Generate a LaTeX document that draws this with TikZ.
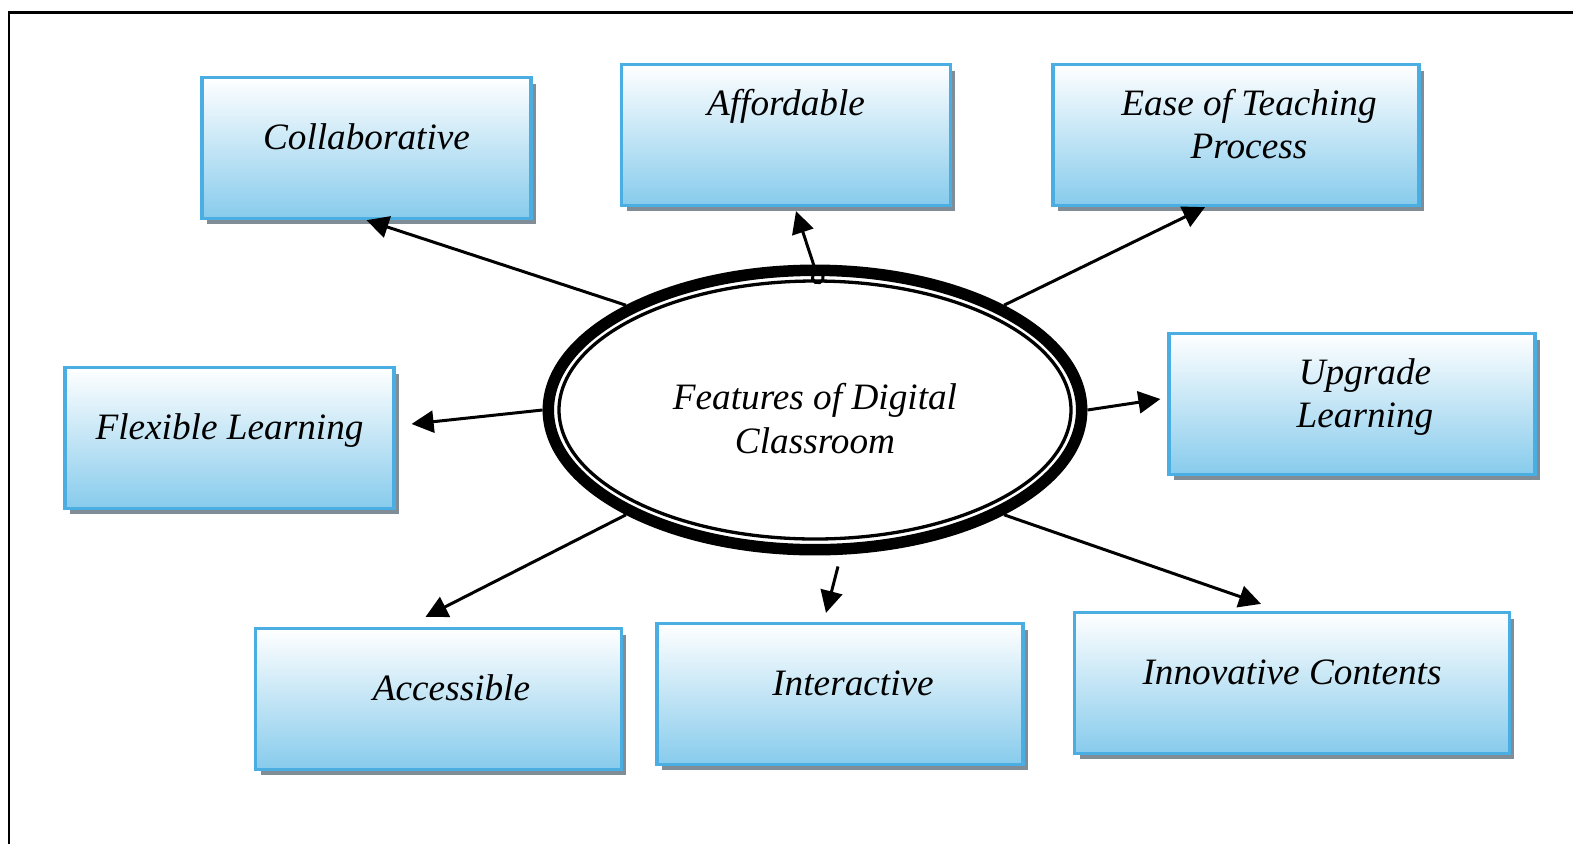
\documentclass[tikz,border=0pt]{standalone}
\usepackage{fontspec}
\setmainfont{Liberation Serif}
\usetikzlibrary{arrows.meta}
\usetikzlibrary{calc}
\usetikzlibrary{shapes.geometric}
\usetikzlibrary{shadows}

\definecolor{boxline}{RGB}{74,174,226}
\definecolor{boxfill}{RGB}{135,203,236}
\definecolor{boxshadow}{RGB}{128,141,150}

\newcommand{\boxfont}{\fontsize{21.2}{24.8}\selectfont\itshape}
\newcommand{\lpad}{\hspace*{0.52cm}}

\tikzset{
  feature/.style={rectangle, draw=boxline, line width=0.066cm, top color=white, bottom color=boxfill,
    minimum width=6.58cm, minimum height=2.82cm, align=center, text depth=0.44cm, font=\boxfont,
    drop shadow={shadow xshift=0.1cm, shadow yshift=-0.12cm, fill=boxshadow, opacity=1}},
  wide/.style={feature, minimum width=7.32cm},
  link/.style={line width=0.06cm, -{Triangle[length=0.44cm,width=0.44cm]}}
}

\begin{document}
\begin{tikzpicture}[x=0.02cm, y=-0.02cm]
  % page and frame
  \useasboundingbox (0,0) rectangle (1573,843);
  \draw[line width=0.06cm] (9,12) rectangle (1620,900);

  % the eight features
  \node[feature] (coll) at (366.5,148) {Collaborative};
  \node[feature] (afford) at (786,135) {Affordable\\ \mbox{}};
  \node[wide] (ease) at (1236,135) {\lpad Ease of Teaching\\ \lpad Process};
  \node[wide] (upgr) at (1352,404) {\lpad Upgrade\\ \lpad Learning};
  \node[feature] (flex) at (229.5,438) {Flexible Learning};
  \node[wide] (access) at (438.5,699) {\lpad Accessible};
  \node[wide] (inter) at (840,694) {\lpad Interactive};
  \node[feature, minimum width=8.7cm] (innov) at (1292,683) {Innovative Contents};

  % centre: thick ring with a thin one inside
  \node[ellipse, draw, line width=0.23cm, minimum width=10.67cm, minimum height=5.59cm,
    align=center, text height=1.74cm, font=\boxfont] (feat) at (815,410) {Features of Digital\\ Classroom};
  \draw[line width=0.066cm] (feat.center) ellipse [x radius=256, y radius=129];

  % arrows out of the centre
  \draw[link] (feat.151) -- (coll.south);
  \draw[link, {Circle[open,length=0.28cm]}-{Triangle[length=0.44cm,width=0.44cm]}]
    ($(feat.north)+(5,19.5)$) -- ($(afford.south)+(10,4)$);
  \draw[link] (feat.29) -- ($(ease.south)+(-31,0)$);
  \draw[link] (feat.east) -- ($(upgr.west)+(-7,-5)$);
  \draw[link] (feat.west) -- ($(flex.east)+(16,-14)$);
  \draw[link] (feat.209) -- ($(access.north)+(-13,-10)$);
  \draw[link] ($(feat.south)+(23,11)$) -- ($(inter.north)+(-14,-9)$);
  \draw[link] (feat.-29) -- ($(innov.north)+(-31,-7)$);
\end{tikzpicture}
\end{document}
